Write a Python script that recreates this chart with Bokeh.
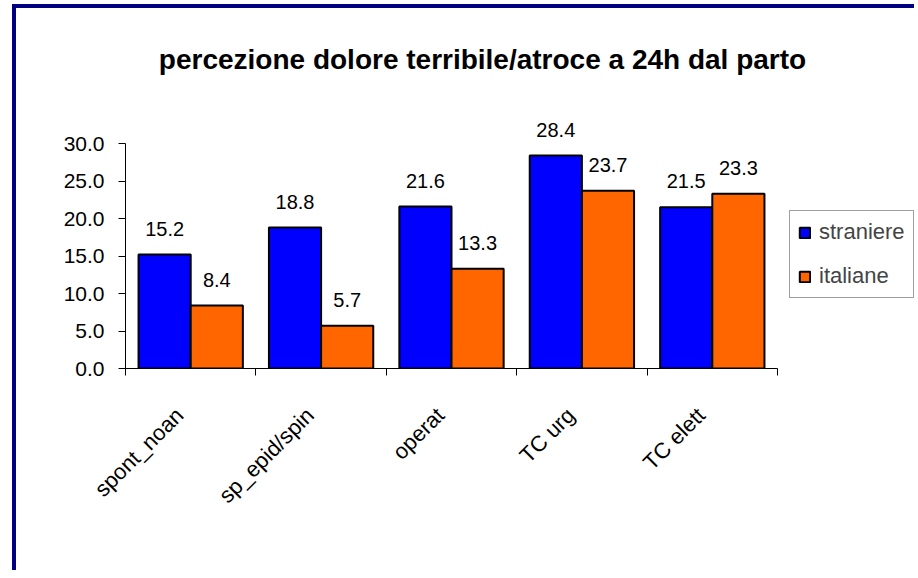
from math import pi
from bokeh.plotting import figure
from bokeh.models import (ColumnDataSource, Range1d, LinearAxis, Label,
                          FixedTicker, NumeralTickFormatter, LabelSet, Legend, LegendItem)
from bokeh.transform import dodge
from bokeh.core.properties import value
from bokeh.embed import file_html
from bokeh.resources import INLINE

# ---- data ----
categories = ["spont_noan", "sp_epid/spin", "operat", "TC urg", "TC elett"]
straniere = [15.2, 18.8, 21.6, 28.4, 21.5]
italiane = [8.4, 5.7, 13.3, 23.7, 23.3]
series_names = ["straniere", "italiane"]
series_colors = ["#0000FF", "#FF6600"]
y_ticks = [0, 5, 10, 15, 20, 25, 30]
title_text = "percezione dolore terribile/atroce a 24h dal parto"

FONT = "Liberation Sans"
n = len(categories)
y_max = y_ticks[-1]
centers = [i + 0.5 for i in range(n)]

# ---- layout (pixels) ----
W, H = 902, 566
LEFT, BOTTOM = 109, 206          # space for y axis / x labels
AXIS_W, AXIS_H = 652, 225        # pixel length of the drawn axes
frame_w = W - LEFT
frame_h = H - BOTTOM
ux = n / AXIS_W                  # data units per pixel
uy = y_max / AXIS_H

# category label anchors: slightly left of each category centre
label_pos = [c - 11 * ux for c in centers]

source = ColumnDataSource(dict(
    pos=centers,
    cat=categories,
    straniere=straniere,
    italiane=italiane,
    lab_s=[f"{v:.1f}" for v in straniere],
    lab_i=[f"{v:.1f}" for v in italiane],
))

p = figure(width=W, height=H,
           x_range=Range1d(0, frame_w * ux),
           y_range=Range1d(0, frame_h * uy),
           output_backend="svg", toolbar_location=None,
           x_axis_location=None, title_location=None,
           min_border_left=LEFT, min_border_right=0,
           min_border_top=0, min_border_bottom=BOTTOM)
p.styles = {"margin-left": "12px",
            "margin-top": "4px",
            "border-left": "4px solid #000080",
            "border-top": "4px solid #000080"}

p.background_fill_color = "white"
p.border_fill_color = "white"
p.outline_line_color = None
p.grid.visible = False

# y axis
ya = p.yaxis[0]
ya.bounds = (0, y_max)
ya.ticker = FixedTicker(ticks=y_ticks)
ya.formatter = NumeralTickFormatter(format="0.0")
ya.major_tick_out = 7
ya.major_tick_in = 0
ya.minor_tick_line_color = None
ya.axis_line_color = "black"
ya.major_tick_line_color = "black"
ya.major_label_text_font = FONT
ya.major_label_text_font_size = "21px"
ya.major_label_text_color = "black"
ya.major_label_standoff = 14

# x axis: tick marks on category boundaries
tick_axis = LinearAxis(bounds=(0, n),
                       ticker=FixedTicker(ticks=list(range(n + 1))),
                       major_label_overrides={i: "" for i in range(n + 1)},
                       major_tick_out=7, major_tick_in=0,
                       minor_tick_line_color=None,
                       axis_line_color="black", major_tick_line_color="black",
                       major_label_standoff=0)
p.add_layout(tick_axis, "below")

# category labels
label_axis = LinearAxis(ticker=FixedTicker(ticks=label_pos),
                        major_label_overrides={c: name for c, name in zip(label_pos, categories)},
                        major_tick_line_color=None, axis_line_color=None,
                        major_tick_out=0, major_tick_in=0,
                        minor_tick_line_color=None,
                        major_label_orientation=pi / 4,
                        major_label_text_font=FONT,
                        major_label_text_font_size="22px",
                        major_label_text_color="black",
                        major_label_standoff=36)
p.add_layout(label_axis, "below")

# bars
r1 = p.vbar(x=dodge("pos", -0.2), top="straniere", width=0.4,
            source=source, fill_color=series_colors[0], line_color="black", line_width=2)
r2 = p.vbar(x=dodge("pos", 0.2), top="italiane", width=0.4,
            source=source, fill_color=series_colors[1], line_color="black", line_width=2)

for col, lab, off in (("straniere", "lab_s", -0.2), ("italiane", "lab_i", 0.2)):
    ls = LabelSet(x=dodge("pos", off), y=col, text=lab, source=source,
                  text_align="center", text_baseline="alphabetic", y_offset=19,
                  text_font=value(FONT), text_font_size="20px", text_color="black")
    p.add_layout(ls)

# title (centred over chart area, above the plot)
title = Label(x=357 * ux, y=309 * uy, text=title_text,
              text_align="center", text_baseline="alphabetic",
              text_font=FONT, text_font_size="28px", text_font_style="bold",
              text_color="black")
p.add_layout(title)

legend = Legend(items=[LegendItem(label=series_names[0], renderers=[r1]),
                       LegendItem(label=series_names[1], renderers=[r2])],
                location=(664, 70),
                label_text_font=FONT, label_text_font_size="22px",
                glyph_width=13, glyph_height=13, label_standoff=8,
                padding=8, spacing=18, margin=0,
                border_line_color="#404040", border_line_width=1,
                background_fill_color="white", background_fill_alpha=1)
p.add_layout(legend)

open("out.html", "w").write(file_html(p, INLINE))
